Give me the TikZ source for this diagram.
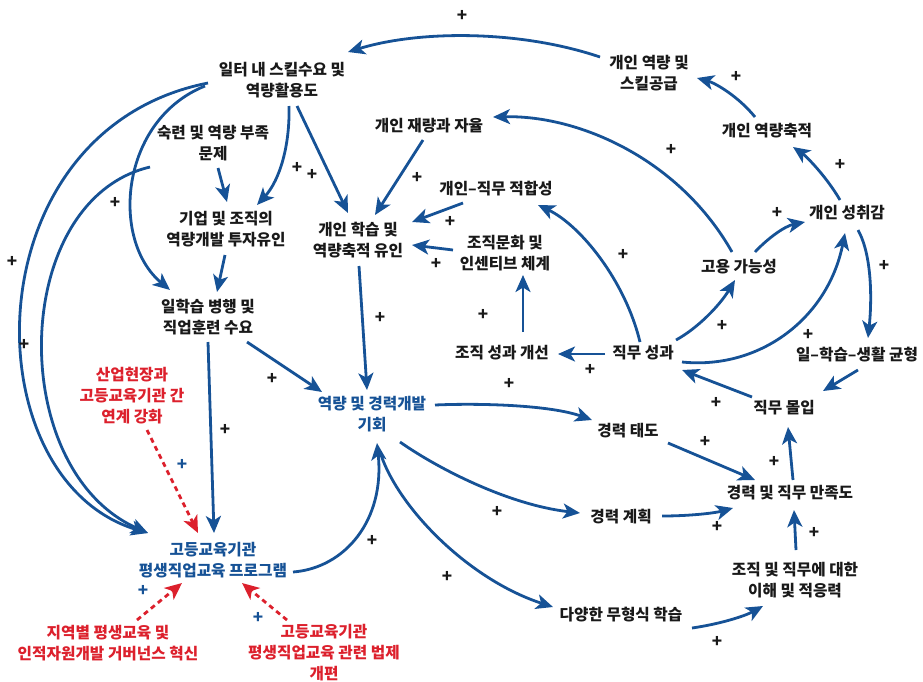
\documentclass[tikz,border=0pt]{standalone}
\usepackage{fontspec}
\setmainfont{Noto Sans CJK KR}
\usetikzlibrary{calc,arrows.meta}
\definecolor{cblue}{RGB}{22,82,150}
\definecolor{cred}{RGB}{220,32,44}
\definecolor{ctext}{RGB}{25,25,25}
\begin{document}
\begin{tikzpicture}[x=1pt,y=-1pt,
  lbl/.style={inner sep=0pt,align=center,text=ctext,font=\fontsize{15.7}{21}\selectfont\bfseries},
  blbl/.style={lbl,text=cblue},
  rlbl/.style={lbl,text=cred},
  pl/.style={inner sep=0pt,text=ctext,font=\fontsize{17}{17}\selectfont\bfseries},
  bpl/.style={pl,text=cblue},
  arr/.style={draw=cblue,line width=2.8pt,-{Stealth[length=17pt,width=15pt,inset=4.5pt]}},
  darr/.style={draw=cred,line width=2.8pt,dash pattern=on 5pt off 4pt,-{Stealth[length=17pt,width=15pt,inset=4.5pt]}}]
\useasboundingbox (0,0) rectangle (923,681);
% nodes
\node[lbl] (A) at (282,80) {일터 내 스킬수요 및\\역량활용도};
\node[lbl] (B) at (649,73) {개인 역량 및\\스킬공급};
\node[lbl] (C) at (767,131) {개인 역량축적};
\node[lbl] (D) at (847,213) {개인 성취감};
\node[lbl] (E) at (739,267) {고용 가능성};
\node[lbl] (F) at (429,126) {개인 재량과 자율};
\node[lbl] (G) at (496,189) {개인–직무 적합성};
\node[lbl] (H) at (505,253) {조직문화 및\\인센티브 체계};
\node[lbl] (I) at (358,240) {개인 학습 및\\역량축적 유인};
\node[lbl] (J) at (213,143) {숙련 및 역량 부족\\문제};
\node[lbl] (K) at (226,229) {기업 및 조직의\\역량개발 투자유인};
\node[lbl] (L) at (208,317) {일학습 병행 및\\직업훈련 수요};
\node[blbl] (M) at (372,414) {역량 및 경력개발\\기회};
\node[blbl] (N) at (213,560) {고등교육기관\\평생직업교육 프로그램};
\node[rlbl] (O) at (132,396) {산업현장과\\고등교육기관 간\\연계 강화};
\node[rlbl] (P) at (108,643) {지역별 평생교육 및\\인적자원개발 거버넌스 혁신};
\node[rlbl] (Q) at (324,653) {고등교육기관\\평생직업교육 관련 법제\\개편};
\node[lbl] (R) at (502,353) {조직 성과 개선};
\node[lbl] (S) at (643,353) {직무 성과};
\node[lbl] (T) at (857,355) {일–학습–생활 균형};
\node[lbl] (U) at (784,408) {직무 몰입};
\node[lbl] (V) at (628,431) {경력 태도};
\node[lbl] (W) at (790,493) {경력 및 직무 만족도};
\node[lbl] (X) at (621,517) {경력 계획};
\node[lbl] (Y) at (795,580) {조직 및 직무에 대한\\이해 및 적응력};
\node[lbl] (Z) at (621,615) {다양한 무형식 학습};
% connectors
\draw[arr] ($(B)+(-49,-16)$) .. controls (520,30) and (420,30) .. ($(A)+(66,-28)$);
\draw[arr] ($(C)+(-12,-14)$) .. controls (738,96) and (715,83) .. ($(B)+(48,5)$);
\draw[arr] ($(D)+(-7,-13)$) .. controls (826,176) and (806,156) .. ($(C)+(26,16)$);
\draw[arr] ($(E)+(-7,-15)$) .. controls (680,160) and (580,115) .. ($(F)+(64,-9)$);
\draw[arr] ($(E)+(16,-15)$) .. controls (768,238) and (785,226) .. ($(D)+(-42,9)$);
\draw[arr] ($(D)+(11,17)$) .. controls (872,255) and (872,300) .. ($(T)+(11,-17)$);
\draw[arr] ($(S)+(33,-13)$) .. controls (698,328) and (720,305) .. ($(E)+(-4,13)$);
\draw[arr] ($(S)+(39,9)$) .. controls (760,370) and (828,318) .. ($(D)+(-2,20)$);
\draw[arr] ($(S)+(-3,-11)$) .. controls (625,280) and (580,225) .. ($(G)+(42,16)$);
\draw[arr] ($(G)+(-33,14)$) -- ($(I)+(54,-18)$);
\draw[arr] ($(H)+(-52,-3)$) -- ($(I)+(54,5)$);
\draw[arr] ($(F)+(-6,14)$) -- ($(I)+(17,-25)$);
\draw[arr] ($(A)+(15,26)$) -- ($(I)+(-10,-27)$);
\draw[arr] ($(A)+(7,26)$) .. controls (290,145) and (280,180) .. ($(K)+(31,-24)$);
\draw[arr] ($(J)+(5,25)$) -- ($(K)+(1,-27)$);
\draw[arr] ($(K)+(-1,26)$) -- ($(L)+(9,-25)$);
\draw[arr] ($(A)+(-77,6)$) .. controls (120,120) and (110,240) .. ($(L)+(-38,-27)$);
\draw[arr] ($(J)+(-63,24)$) .. controls (10,200) and (5,470) .. ($(N)+(-65,-27)$);
\draw[arr] ($(A)+(-74,3)$) .. controls (-30,130) and (-30,480) .. ($(N)+(-65,-27)$);
\draw[arr] ($(L)+(0,25)$) -- ($(N)+(1,-27)$);
\draw[arr] ($(L)+(39,25)$) -- ($(M)+(-50,-22)$);
\draw[arr] ($(I)+(1,26)$) -- ($(M)+(-5,-24)$);
\draw[darr] ($(O)+(15,34)$) -- ($(N)+(-15,-27)$);
\draw[darr] ($(P)+(29,-23)$) -- ($(N)+(-31,23)$);
\draw[darr] ($(Q)+(-37,-33)$) -- ($(N)+(29,23)$);
\draw[arr] ($(N)+(80,12)$) .. controls (345,568) and (385,520) .. ($(M)+(5,29)$);
\draw[arr] ($(M)+(9,41)$) .. controls (400,510) and (470,580) .. ($(Z)+(-68,-8)$);
\draw[arr] ($(M)+(63,-9)$) .. controls (480,403) and (550,405) .. ($(V)+(-36,-11)$);
\draw[arr] ($(M)+(28,28)$) .. controls (440,470) and (510,505) .. ($(X)+(-41,-4)$);
\draw[arr] ($(V)+(40,12)$) -- ($(W)+(-35,-13)$);
\draw[arr] ($(X)+(41,-1)$) .. controls (690,516) and (715,513) .. ($(W)+(-57,15)$);
\draw[arr] ($(Y)+(1,-30)$) -- ($(W)+(4,17)$);
\draw[arr] ($(Z)+(71,13)$) .. controls (720,624) and (745,616) .. ($(Y)+(-32,26)$);
\draw[arr] ($(W)+(3,-13)$) -- ($(U)+(4,19)$);
\draw[arr] ($(U)+(-32,-11)$) -- ($(S)+(39,17)$);
\draw[arr] ($(T)+(1,15)$) -- ($(U)+(39,-17)$);
\draw[arr] ($(S)+(-38,1)$) -- ($(R)+(56,1)$);
\draw[arr] ($(R)+(21,-21)$) -- ($(H)+(18,22)$);
% plus signs
\node[pl] (p1) at (462,16) {+};
\node[pl] (p2) at (736,77) {+};
\node[pl] (p3) at (840,165) {+};
\node[pl] (p4) at (671,150) {+};
\node[pl] (p5) at (777,213) {+};
\node[pl] (p6) at (884,266) {+};
\node[pl] (p7) at (722,326) {+};
\node[pl] (p8) at (808,335) {+};
\node[pl] (p9) at (623,255) {+};
\node[pl] (p10) at (450,222) {+};
\node[pl] (p11) at (436,264) {+};
\node[pl] (p12) at (417,178) {+};
\node[pl] (p13) at (312,175) {+};
\node[pl] (p14) at (297,168) {+};
\node[pl] (p15) at (115,203) {+};
\node[pl] (p16) at (12,262) {+};
\node[pl] (p17) at (24,345) {+};
\node[pl] (p18) at (225,430) {+};
\node[pl] (p19) at (272,379) {+};
\node[pl] (p20) at (380,318) {+};
\node[pl] (p21) at (372,541) {+};
\node[pl] (p22) at (447,577) {+};
\node[pl] (p23) at (509,384) {+};
\node[pl] (p24) at (497,512) {+};
\node[pl] (p25) at (705,442) {+};
\node[pl] (p26) at (717,527) {+};
\node[pl] (p27) at (814,533) {+};
\node[pl] (p28) at (717,642) {+};
\node[pl] (p29) at (774,462) {+};
\node[pl] (p30) at (716,403) {+};
\node[pl] (p31) at (590,370) {+};
\node[pl] (p32) at (483,315) {+};
\node[bpl] (p33) at (182,465) {+};
\node[bpl] (p34) at (143,591) {+};
\node[bpl] (p35) at (258,618) {+};
\end{tikzpicture}
\end{document}
